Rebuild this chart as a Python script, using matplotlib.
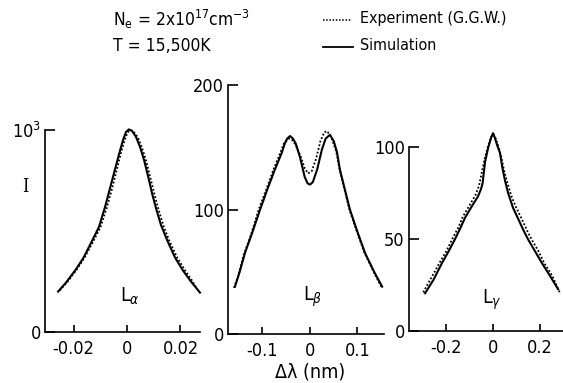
import numpy as np
import matplotlib.pyplot as plt

plt.rcParams['font.family'] = ['DejaVu Sans']
plt.rcParams['font.stretch'] = 'condensed'
plt.rcParams['mathtext.fontset'] = 'dejavusans'

# L-alpha profile (delta lambda in nm, intensity)
la_sim_x = [-0.0258, -0.0228, -0.0194, -0.0164, -0.0135, -0.0105, -0.0082, -0.0064, -0.0045,
            -0.0030, -0.0015, -0.0004, 0.0007, 0.0019, 0.0034, 0.0049, 0.0064, 0.0079,
            0.0093, 0.0108, 0.0127, 0.0150, 0.0179, 0.0209, 0.0239, 0.0273]
la_sim_y = [200, 245, 305, 365, 440, 520, 620, 710, 805, 880, 950, 990, 1003, 995, 965,
            915, 850, 770, 690, 615, 530, 455, 370, 305, 250, 195]
la_exp_x = [-0.0252, -0.0222, -0.0189, -0.0159, -0.0129, -0.0099, -0.0077, -0.0058, -0.0039,
            -0.0024, -0.0009, 0.0002, 0.0013, 0.0024, 0.0041, 0.0056, 0.0071, 0.0086,
            0.0101, 0.0116, 0.0135, 0.0157, 0.0187, 0.0217, 0.0243, 0.0262]
la_exp_y = [205, 250, 308, 368, 442, 520, 610, 700, 800, 880, 950, 988, 1000, 993, 962,
            912, 850, 770, 690, 615, 530, 455, 370, 305, 255, 213]

# L-beta profile
lb_sim_x = [-0.158, -0.148, -0.137, -0.121, -0.105, -0.09, -0.074, -0.059, -0.053, -0.048,
            -0.042, -0.036, -0.03, -0.021, -0.011, -0.005, 0.0, 0.006, 0.015, 0.025, 0.033,
            0.042, 0.05, 0.057, 0.063, 0.084, 0.1, 0.116, 0.135, 0.152]
lb_sim_y = [38, 50, 65, 82, 100, 116, 132, 146, 153, 157, 159, 157, 153, 142, 126, 121,
            120, 122, 132, 148, 157, 160, 155, 146, 132, 100, 82, 65, 50, 38]
lb_exp_x = [-0.16, -0.15, -0.14, -0.124, -0.108, -0.093, -0.077, -0.062, -0.055, -0.045,
            -0.038, -0.03, -0.02, -0.011, -0.004, 0.004, 0.013, 0.022, 0.03, 0.036, 0.045,
            0.055, 0.062, 0.083, 0.099, 0.115, 0.134, 0.15]
lb_exp_y = [37, 48, 63, 80, 100, 115, 132, 146, 153, 157, 156, 152, 143, 133, 129, 131,
            141, 155, 162, 163, 158, 147, 133, 100, 82, 65, 50, 38]

# L-gamma profile
lg_sim_x = [-0.292, -0.255, -0.219, -0.19, -0.163, -0.14, -0.12, -0.09, -0.065, -0.052,
            -0.045, -0.034, -0.02, -0.008, 0.0, 0.008, 0.018, 0.03, 0.04, 0.052, 0.065,
            0.086, 0.11, 0.13, 0.15, 0.18, 0.21, 0.245, 0.28]
lg_sim_y = [20.5, 28, 37, 43.5, 50, 56, 61.6, 68, 73, 77, 80, 92, 100, 105, 107.5, 105,
            101, 96.8, 89, 81.6, 75, 67, 60.5, 55, 50, 43.5, 37, 30, 22.7]
lg_exp_x = [-0.3, -0.265, -0.23, -0.2, -0.175, -0.15, -0.13, -0.1, -0.075, -0.06, -0.045,
            -0.035, -0.02, -0.008, 0.002, 0.012, 0.024, 0.035, 0.048, 0.063, 0.08, 0.1,
            0.125, 0.145, 0.165, 0.195, 0.22, 0.255, 0.29]
lg_exp_y = [21, 29, 37, 43.5, 50, 56, 62, 68.5, 74, 79, 88, 94, 101, 105.5, 107, 104.5,
            100, 95, 87, 80, 73, 67, 60.5, 55, 50, 43.5, 37, 30, 20]

panels = [
    dict(rect=[0.0799, 0.1332, 0.2753, 0.5274], xlim=(-0.0307, 0.0273), ylim=(0, 1000),
         xticks=[-0.02, 0, 0.02], xlabels=['-0.02', '0', '0.02'],
         yticks=[0, 1000], ylabels=['0', '10$^3$'],
         sim=(la_sim_x, la_sim_y), exp=(la_exp_x, la_exp_y),
         name='L$_{\\alpha}$', name_pos=(0.0011, 178)),
    dict(rect=[0.405, 0.128, 0.277, 0.650], xlim=(-0.1726, 0.1558), ylim=(0, 200),
         xticks=[-0.1, 0, 0.1], xlabels=['-0.1', '0', '0.1'],
         yticks=[0, 100, 200], ylabels=['0', '100', '200'],
         sim=(lb_sim_x, lb_sim_y), exp=(lb_exp_x, lb_exp_y),
         name='L$_{\\beta}$', name_pos=(0.006, 30)),
    dict(rect=[0.7265, 0.1358, 0.2735, 0.4804], xlim=(-0.361, 0.301), ylim=(0, 100),
         xticks=[-0.2, 0, 0.2], xlabels=['-0.2', '0', '0.2'],
         yticks=[0, 50, 100], ylabels=['0', '50', '100'],
         sim=(lg_sim_x, lg_sim_y), exp=(lg_exp_x, lg_exp_y),
         name='L$_{\\gamma}$', name_pos=(-0.004, 17)),
]

fig = plt.figure(figsize=(5.63, 3.83), dpi=100)

for p in panels:
    ax = fig.add_axes(p['rect'])
    ax.plot(*p['sim'], color='black', lw=1.5, clip_on=False)
    ax.plot(*p['exp'], color='black', lw=1.3, ls=(0, (1, 1.1)), clip_on=False)
    ax.set_xlim(p['xlim'])
    ax.set_ylim(p['ylim'])
    ax.set_xticks(p['xticks'], p['xlabels'])
    ax.set_yticks(p['yticks'], p['ylabels'])
    for s in ['top', 'right']:
        ax.spines[s].set_visible(False)
    for s in ['left', 'bottom']:
        ax.spines[s].set_linewidth(1.2)
    ax.tick_params(axis='y', direction='in', length=7, width=1.2, pad=3, labelsize=13)
    ax.tick_params(axis='x', direction='in', length=5, width=1.2, pad=6, labelsize=13)
    ax.text(*p['name_pos'], p['name'], fontsize=14, ha='center', va='center')

fig.text(25 / 563, 1 - 187 / 383, 'I', family='DejaVu Serif', fontsize=13,
         ha='center', va='center')
fig.text(310 / 563, 1 - 372 / 383, 'Δλ (nm)', fontsize=14, ha='center', va='center')

# plasma conditions
fig.text(113 / 563, 1 - 19 / 383, 'N$_\\mathrm{e}$ = 2x10$^{17}$cm$^{-3}$', fontsize=12.5,
         ha='left', va='center')
fig.text(113 / 563, 1 - 46 / 383, 'T = 15,500K', fontsize=12.5, ha='left', va='center')

# legend drawn by hand
fig.add_artist(plt.Line2D([323 / 563, 352 / 563], [1 - 20 / 383] * 2, color='black',
                          lw=1.1, ls=(0, (1, 1.1))))
fig.add_artist(plt.Line2D([323 / 563, 353 / 563], [1 - 47 / 383] * 2, color='black', lw=1.3))
fig.text(360 / 563, 1 - 19 / 383, 'Experiment (G.G.W.)', fontsize=11.5, ha='left', va='center')
fig.text(360 / 563, 1 - 46 / 383, 'Simulation', fontsize=11.5, ha='left', va='center')

fig.savefig('out.png', dpi=100)
